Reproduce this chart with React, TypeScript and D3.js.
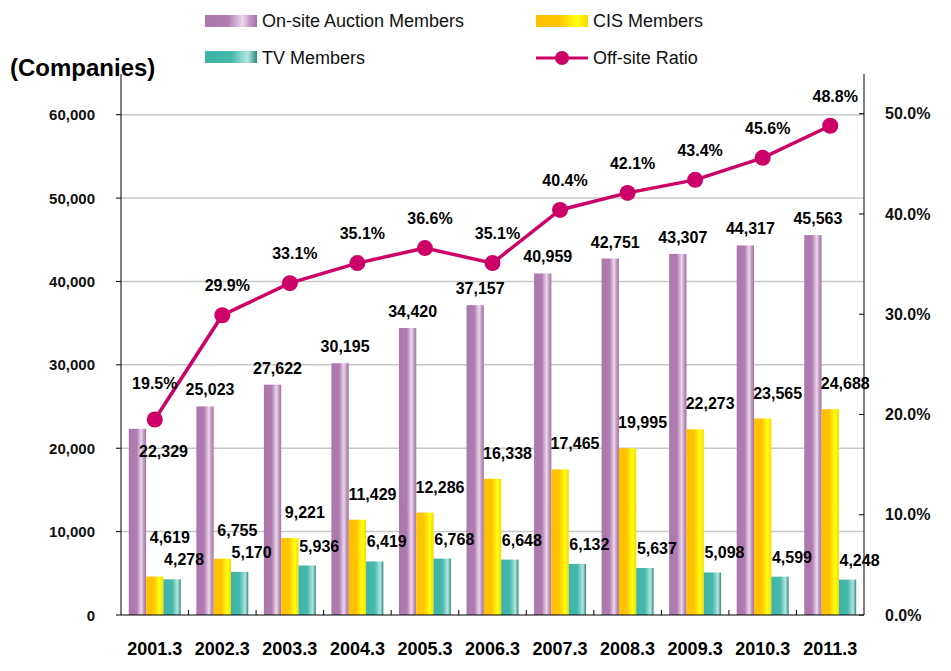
// App.tsx
import React from 'react';
import { scaleBand, scaleLinear, line, format } from 'd3';

const years = ['2001.3', '2002.3', '2003.3', '2004.3', '2005.3', '2006.3', '2007.3', '2008.3', '2009.3', '2010.3', '2011.3'];
const onsiteMembers = [22329, 25023, 27622, 30195, 34420, 37157, 40959, 42751, 43307, 44317, 45563];
const cisMembers = [4619, 6755, 9221, 11429, 12286, 16338, 17465, 19995, 22273, 23565, 24688];
const tvMembers = [4278, 5170, 5936, 6419, 6768, 6648, 6132, 5637, 5098, 4599, 4248];
const offsiteRatio = [19.5, 29.9, 33.1, 35.1, 36.6, 35.1, 40.4, 42.1, 43.4, 45.6, 48.8];
const leftTicks = [0, 10000, 20000, 30000, 40000, 50000, 60000];
const rightTicks = [0, 10, 20, 30, 40, 50];

const seriesKeys = ['onsite', 'cis', 'tv'];
const seriesNames: Record<string, string> = {
    onsite: 'On-site Auction Members',
    cis: 'CIS Members',
    tv: 'TV Members',
};

const W = 951;
const H = 671;
const left = 121;
const right = 864;
const top = 74;
const bottom = 615;
const font = '"Liberation Sans", Arial, Helvetica, sans-serif';
const lineColor = '#CC0066';

const App = () => {
    // scales
    const x0 = scaleBand<string>().domain(years).range([left, right]).padding(0);
    const x1 = scaleBand<string>().domain(seriesKeys).range([0, x0.bandwidth()]).paddingInner(0).paddingOuter(0.45);
    const yLeft = scaleLinear().domain([0, 60000]).range([bottom, 114.7]);
    const yRight = scaleLinear().domain([0, 50]).range([bottom, 113.7]);
    const fmt = format(',');

    const valuesOf: Record<string, number[]> = { onsite: onsiteMembers, cis: cisMembers, tv: tvMembers };
    const center = (yr: string) => (x0(yr) as number) + x0.bandwidth() / 2;
    const barCenter = (yr: string, k: string) => (x0(yr) as number) + (x1(k) as number) + x1.bandwidth() / 2;

    const ratioLine = line<number>()
        .x((_, i) => center(years[i]))
        .y(d => yRight(d));

    const boundaries = years.slice(1).map(yr => x0(yr) as number);

    // label baselines: keep the CIS label clear of the TV label below it
    const tvLabelY = tvMembers.map(v => yLeft(v) - 14);
    const cisLabelY = cisMembers.map((v, i) => Math.min(yLeft(v) - 20, tvLabelY[i] - 22));

    return (
        <svg width={W} height={H} style={{ position: 'absolute', left: 0, top: 0, background: '#fff' }} fontFamily={font}>
            <defs>
                <linearGradient id="g-onsite" x1="0" x2="1" y1="0" y2="0">
                    <stop offset="0" stopColor="#AC76AC" />
                    <stop offset="0.45" stopColor="#B07CB0" />
                    <stop offset="0.72" stopColor="#EBD7EB" />
                    <stop offset="0.86" stopColor="#C29AC2" />
                    <stop offset="1" stopColor="#A670A6" />
                </linearGradient>
                <linearGradient id="g-cis" x1="0" x2="1" y1="0" y2="0">
                    <stop offset="0" stopColor="#FFBF00" />
                    <stop offset="0.45" stopColor="#FFC400" />
                    <stop offset="0.78" stopColor="#FFFF10" />
                    <stop offset="1" stopColor="#F7D800" />
                </linearGradient>
                <linearGradient id="g-tv" x1="0" x2="1" y1="0" y2="0">
                    <stop offset="0" stopColor="#3DB4A7" />
                    <stop offset="0.5" stopColor="#44B8AB" />
                    <stop offset="0.82" stopColor="#B3E6DF" />
                    <stop offset="1" stopColor="#2E8A80" />
                </linearGradient>
            </defs>

            {/* grid lines */}
            {leftTicks.slice(1).map(t => (
                <line key={'g' + t} x1={left} x2={right} y1={yLeft(t)} y2={yLeft(t)} stroke="#C8C8C8" strokeWidth={1.5} />
            ))}

            {/* bars */}
            {seriesKeys.map(k =>
                valuesOf[k].map((v, i) => (
                    <rect
                        key={k + i}
                        x={(x0(years[i]) as number) + (x1(k) as number)}
                        y={yLeft(v)}
                        width={x1.bandwidth()}
                        height={bottom - yLeft(v)}
                        fill={`url(#g-${k})`}
                    />
                ))
            )}

            {/* axes */}
            <line x1={left} x2={left} y1={top} y2={bottom} stroke="#000" />
            <line x1={right} x2={right} y1={top} y2={bottom} stroke="#000" />
            <line x1={left} x2={right} y1={bottom} y2={bottom} stroke="#000" />
            {leftTicks.map(t => (
                <g key={'l' + t}>
                    <line x1={left - 5} x2={left} y1={yLeft(t)} y2={yLeft(t)} stroke="#000" />
                    <text x={95} y={yLeft(t) + 5.5} textAnchor="end" fontSize={15} fontWeight="bold" fill="#111">
                        {fmt(t)}
                    </text>
                </g>
            ))}
            {rightTicks.map(t => (
                <g key={'r' + t}>
                    <line x1={right - 5} x2={right} y1={yRight(t)} y2={yRight(t)} stroke="#000" />
                    <text x={885} y={yRight(t) + 5.6} fontSize={16} fontWeight="bold" fill="#111">
                        {t.toFixed(1) + '%'}
                    </text>
                </g>
            ))}
            {boundaries.map((b, i) => (
                <line key={'b' + i} x1={b} x2={b} y1={bottom - 5} y2={bottom} stroke="#000" />
            ))}
            {years.map(yr => (
                <text key={'c' + yr} x={center(yr)} y={655} textAnchor="middle" fontSize={18} fontWeight="bold" fill="#000">
                    {yr}
                </text>
            ))}

            {/* bar labels */}
            {onsiteMembers.map((v, i) => {
                const yr = years[i];
                const barTop = yLeft(v);
                const mark = yRight(offsiteRatio[i]);
                // push the label below the top when the ratio marker sits on it
                const clash = mark > barTop - 30 && mark < barTop + 10;
                return (
                    <text key={'lo' + i}
                        x={barCenter(yr, 'onsite') + (clash ? 26 : 5)}
                        y={clash ? barTop + 28 : barTop - 11}
                        textAnchor="middle" fontSize={16} fontWeight="bold" fill="#000">
                        {fmt(v)}
                    </text>
                );
            })}
            {cisMembers.map((v, i) => (
                <text key={'lc' + i} x={barCenter(years[i], 'cis') + 15} y={cisLabelY[i]}
                    textAnchor="middle" fontSize={16} fontWeight="bold" fill="#000">
                    {fmt(v)}
                </text>
            ))}
            {tvMembers.map((v, i) => (
                <text key={'lt' + i} x={barCenter(years[i], 'tv') + 12} y={tvLabelY[i]}
                    textAnchor="middle" fontSize={16} fontWeight="bold" fill="#000">
                    {fmt(v)}
                </text>
            ))}

            {/* ratio line */}
            <path d={ratioLine(offsiteRatio) || ''} fill="none" stroke={lineColor} strokeWidth={3.5} />
            {offsiteRatio.map((r, i) => (
                <circle key={'m' + i} cx={center(years[i])} cy={yRight(r)} r={8} fill={lineColor} />
            ))}
            {offsiteRatio.map((r, i) => (
                <text key={'lr' + i} x={center(years[i]) + (i === 0 ? 0 : 5)} y={yRight(r) - (i === 0 ? 30 : 24)}
                    textAnchor="middle" fontSize={16} fontWeight="bold" fill="#000">
                    {r.toFixed(1) + '%'}
                </text>
            ))}

            {/* title */}
            <text x={10} y={76} fontSize={24} fontWeight="bold" fill="#000">(Companies)</text>

            {/* legend */}
            <rect x={205} y={15} width={52} height={12} fill="url(#g-onsite)" />
            <text x={262} y={27} fontSize={18} fill="#111">{seriesNames.onsite}</text>
            <rect x={536} y={15} width={52} height={12} fill="url(#g-cis)" />
            <text x={593} y={27} fontSize={18} fill="#111">{seriesNames.cis}</text>
            <rect x={205} y={51} width={52} height={12} fill="url(#g-tv)" />
            <text x={262} y={64} fontSize={18} fill="#111">{seriesNames.tv}</text>
            <line x1={536} x2={588} y1={58} y2={58} stroke={lineColor} strokeWidth={3} />
            <circle cx={562} cy={58} r={7} fill={lineColor} />
            <text x={593} y={64} fontSize={18} fill="#111">Off-site Ratio</text>
        </svg>
    );
};

export default App;
